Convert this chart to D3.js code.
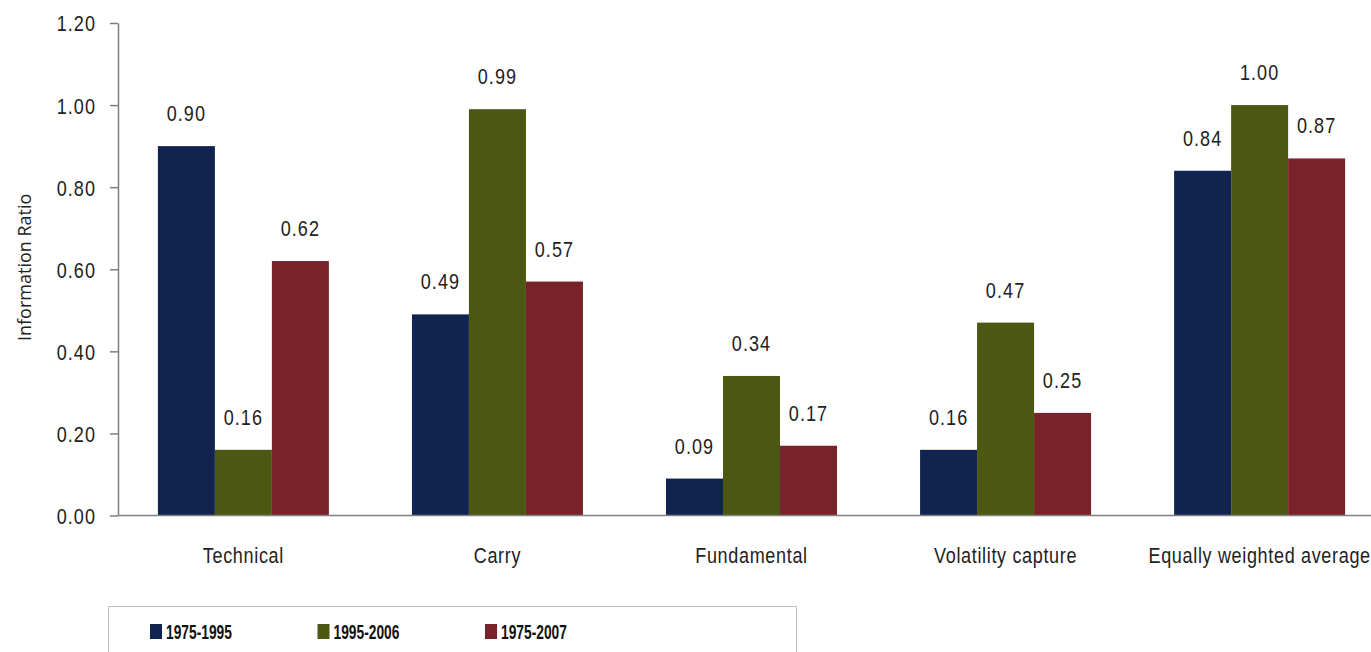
<!DOCTYPE html>
<html>
<head>
<meta charset="utf-8">
<script src="https://cdn.jsdelivr.net/npm/d3@7"></script>
<style>
  body { margin: 0; background: #fff; }
  svg { display: block; }
  .num { font-family: "Liberation Sans", Arial, sans-serif; font-size: 22px; fill: #222; letter-spacing: 1.3px; }
  .cat { font-family: "Liberation Sans", Arial, sans-serif; font-size: 22px; fill: #222; letter-spacing: 0.8px; }
  .leg { font-family: "Liberation Sans", Arial, sans-serif; font-size: 20px; font-weight: bold; fill: #111; }
  .ytitle { font-family: "Open Sans", "Noto Sans", sans-serif; font-size: 18px; fill: #222; }
</style>
</head>
<body>
<svg id="chart" width="1371" height="652"></svg>
<script>

var categories = ['Technical', 'Carry', 'Fundamental', 'Volatility capture', 'Equally weighted average'];
var periods = ['1975-1995', '1995-2006', '1975-2007'];
var values_1975_1995 = [0.90, 0.49, 0.09, 0.16, 0.84];
var values_1995_2006 = [0.16, 0.99, 0.34, 0.47, 1.00];
var values_1975_2007 = [0.62, 0.57, 0.17, 0.25, 0.87];
var y_ticks = [0, 0.2, 0.4, 0.6, 0.8, 1.0, 1.2];
var colors = ['#10244f', '#4b5713', '#7a2229'];

var series = [values_1975_1995, values_1995_2006, values_1975_2007];
var data = categories.map((c, i) => ({cat: c, vals: series.map(s => s[i])}));

var margin = {top: 23, left: 118};
var plot_height = 515.5 - margin.top;
var narrow = 0.82;   // narrow face: the regular face squeezed horizontally

var svg = d3.select('#chart');

var x0 = d3.scaleBand().domain(categories).range([0, 1267]).paddingInner(0.327).paddingOuter(0.157);
var x1 = d3.scaleBand().domain(periods).range([0, x0.bandwidth()]);
var y = d3.scaleLinear().domain([0, 1.2]).range([plot_height, 0]);

var g = svg.append('g')
    .attr('transform', 'translate(' + margin.left + ',' + margin.top + ')');

// bars
var groups = g.selectAll('.group')
    .data(data)
    .enter()
    .append('g')
    .attr('transform', d => 'translate(' + x0(d.cat) + ',0)');

groups.selectAll('rect')
    .data(d => d.vals.map((v, i) => ({p: periods[i], v: v, i: i})))
    .enter()
    .append('rect')
    .attr('x', d => x1(d.p))
    .attr('y', d => y(d.v))
    .attr('width', x1.bandwidth())
    .attr('height', d => plot_height - y(d.v))
    .attr('fill', d => colors[d.i]);

groups.selectAll('.val')
    .data(d => d.vals.map((v, i) => ({p: periods[i], v: v})))
    .enter()
    .append('text')
    .attr('class', 'num')
    .attr('text-anchor', 'middle')
    .attr('transform', d => 'translate(' + (x1(d.p) + x1.bandwidth() / 2) + ',' + (y(d.v) - 25) + ') scale(' + narrow + ',1)')
    .text(d => d.v.toFixed(2));

// y axis
var y_axis = g.append('g')
    .call(d3.axisLeft(y).tickValues(y_ticks).tickFormat(d3.format('.2f')).tickSize(8).tickSizeOuter(0).tickPadding(14));
y_axis.select('.domain').attr('stroke', '#808080').attr('stroke-width', 1.5);
y_axis.selectAll('.tick line').attr('stroke', '#808080').attr('stroke-width', 1.5);
y_axis.selectAll('.tick text')
    .attr('class', 'num')
    .attr('font-family', null).attr('font-size', null).attr('fill', null)
    .attr('x', 0)
    .attr('dy', '0.36em')
    .attr('transform', 'translate(-22,0) scale(' + narrow + ',1)');

// x baseline
g.append('line')
    .attr('x1', 0).attr('x2', 1371 - margin.left)
    .attr('y1', plot_height).attr('y2', plot_height)
    .attr('stroke', '#808080').attr('stroke-width', 1.5);

// category labels
g.selectAll('.cat')
    .data(categories)
    .enter()
    .append('text')
    .attr('class', 'cat')
    .attr('text-anchor', 'middle')
    .attr('transform', d => 'translate(' + (x0(d) + x0.bandwidth() / 2) + ',' + (plot_height + 47) + ') scale(' + narrow + ',1)')
    .text(d => d);

// y title
svg.append('text')
    .attr('class', 'ytitle')
    .attr('transform', 'translate(31,341) rotate(-90)')
    .attr('text-anchor', 'start')
    .text('Information Ratio');

// legend
svg.append('rect')
    .attr('x', 108.5).attr('y', 606.5)
    .attr('width', 688).attr('height', 60)
    .attr('fill', 'none')
    .attr('stroke', '#c0c0c0')
    .attr('stroke-width', 1);

var legend = svg.selectAll('.legitem')
    .data(periods)
    .enter()
    .append('g')
    .attr('transform', (d, i) => 'translate(' + (150 + i * 167.5) + ',624)');

legend.append('rect')
    .attr('width', 12).attr('height', 15)
    .attr('fill', (d, i) => colors[i]);

legend.append('text')
    .attr('class', 'leg')
    .attr('transform', 'translate(16,15) scale(0.69,1)')
    .text(d => d);

</script>
</body>
</html>
